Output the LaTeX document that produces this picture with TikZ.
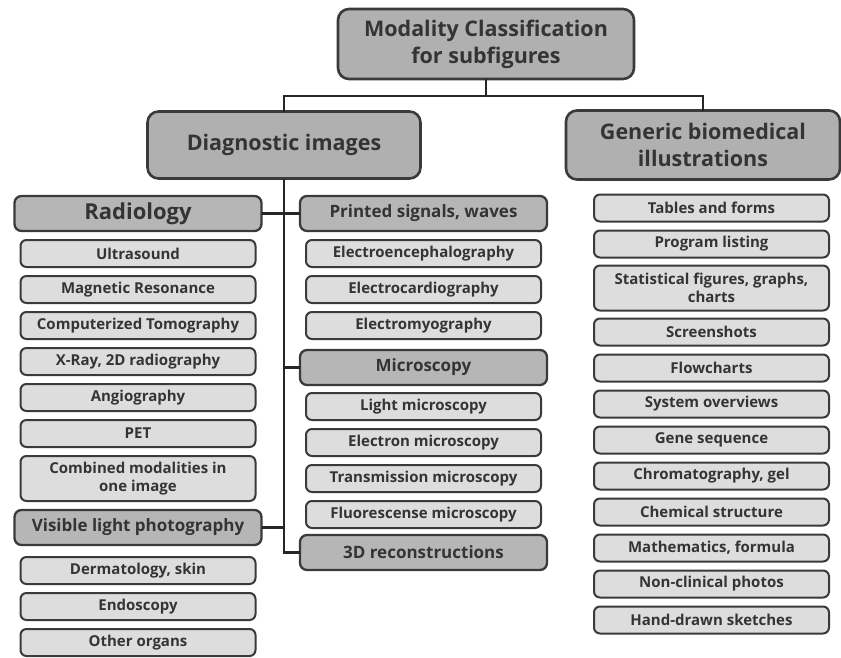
\documentclass[tikz,border=0pt]{standalone}
\usepackage{fontspec}
\setmainfont{Open Sans}
\usepackage{xcolor}
\usepackage{tikz}
\usetikzlibrary{positioning}
\definecolor{edgegray}{RGB}{58,58,58}
\definecolor{topfill}{RGB}{176,176,176}
\definecolor{catfill}{RGB}{182,182,182}
\definecolor{leaffill}{RGB}{221,221,221}
\definecolor{inkgray}{RGB}{52,52,52}
\tikzset{
  topbox/.style  = {draw=edgegray, line width=2.6pt, rounded corners=11pt, fill=topfill, align=center, text=inkgray, inner sep=0pt, outer sep=0pt, font=\bfseries\fontsize{21.5}{27}\selectfont},
  catbox/.style  = {draw=edgegray, line width=2.3pt, rounded corners=7pt, fill=catfill, align=center, text=inkgray, inner sep=0pt, outer sep=0pt, minimum width=247pt, minimum height=35pt, font=\bfseries\fontsize{17}{20}\selectfont},
  leafbox/.style = {draw=edgegray, line width=2pt, rounded corners=6pt, fill=leaffill, align=center, text=inkgray, inner sep=0pt, outer sep=0pt, minimum width=235pt, minimum height=27pt, font=\bfseries\fontsize{15}{18}\selectfont},
  link/.style    = {line width=2.5pt, draw=black!85},
}
\begin{document}
\begin{tikzpicture}[x=1pt, y=-1pt, node distance=9pt]
  \useasboundingbox (0,0) rectangle (841,657);
  % top levels
  \node[topbox, minimum width=296pt, minimum height=70pt] (top) at (486,44) {Modality Classification\\for subfigures};
  \node[topbox, minimum width=273pt, minimum height=67pt] (diag) at (284,145) {Diagnostic images};
  \node[topbox, minimum width=274pt, minimum height=69pt] (gen) at (703,145) {Generic biomedical\\illustrations};
  % radiology column
  \node[catbox, font=\bfseries\fontsize{22}{24}\selectfont] (rad) at (138,213.5) {Radiology};
  \node[leafbox, below=of rad] (us) {Ultrasound};
  \node[leafbox, below=of us] (mr) {Magnetic Resonance};
  \node[leafbox, below=of mr] (ct) {Computerized Tomography};
  \node[leafbox, below=of ct] (xray) {X-Ray, 2D radiography};
  \node[leafbox, below=of xray] (angio) {Angiography};
  \node[leafbox, below=of angio] (pet) {PET};
  \node[leafbox, below=of pet, minimum height=45pt] (comb) {Combined modalities in\\one image};
  \node[catbox, below=of comb] (vis) {Visible light photography};
  \node[leafbox, below=12pt of vis] (derm) {Dermatology, skin};
  \node[leafbox, below=of derm] (endo) {Endoscopy};
  \node[leafbox, below=of endo] (organs) {Other organs};
  % signals and microscopy column
  \node[catbox] (prt) at (423.5,213.5) {Printed signals, waves};
  \node[leafbox, below=of prt] (eeg) {Electroencephalography};
  \node[leafbox, below=of eeg] (ecg) {Electrocardiography};
  \node[leafbox, below=of ecg] (emg) {Electromyography};
  \node[catbox, below=11pt of emg] (mic) {Microscopy};
  \node[leafbox, below=8pt of mic] (lm) {Light microscopy};
  \node[leafbox, below=of lm] (em) {Electron microscopy};
  \node[leafbox, below=of em] (tm) {Transmission microscopy};
  \node[leafbox, below=of tm] (fm) {Fluorescense microscopy};
  \node[catbox, below=7pt of fm] (rec) {3D reconstructions};
  % generic column
  \node[leafbox, below=15pt of gen, xshift=8.5pt] (tab) {Tables and forms};
  \node[leafbox, below=of tab] (prog) {Program listing};
  \node[leafbox, below=8pt of prog, minimum height=45pt] (stat) {Statistical figures, graphs,\\charts};
  \node[leafbox, below=8pt of stat] (shot) {Screenshots};
  \node[leafbox, below=of shot] (flow) {Flowcharts};
  \node[leafbox, below=of flow] (sys) {System overviews};
  \node[leafbox, below=of sys] (gene) {Gene sequence};
  \node[leafbox, below=of gene] (chrom) {Chromatography, gel};
  \node[leafbox, below=of chrom] (chem) {Chemical structure};
  \node[leafbox, below=of chem] (math) {Mathematics, formula};
  \node[leafbox, below=of math] (photo) {Non-clinical photos};
  \node[leafbox, below=of photo] (sketch) {Hand-drawn sketches};
  % connectors
  \coordinate (bus) at (486,96);
  \draw[link] (top.south) -- (bus);
  \draw[link] (diag.north) |- (bus) -| (gen.north);
  \draw[link] (diag.south) |- (rec.west);
  \draw[link] (rad.east) -- (prt.west);
  \draw[link] (mic.west) -- (mic.west -| diag.south);
  \draw[link] (vis.east) -- (vis.east -| diag.south);
\end{tikzpicture}
\end{document}
